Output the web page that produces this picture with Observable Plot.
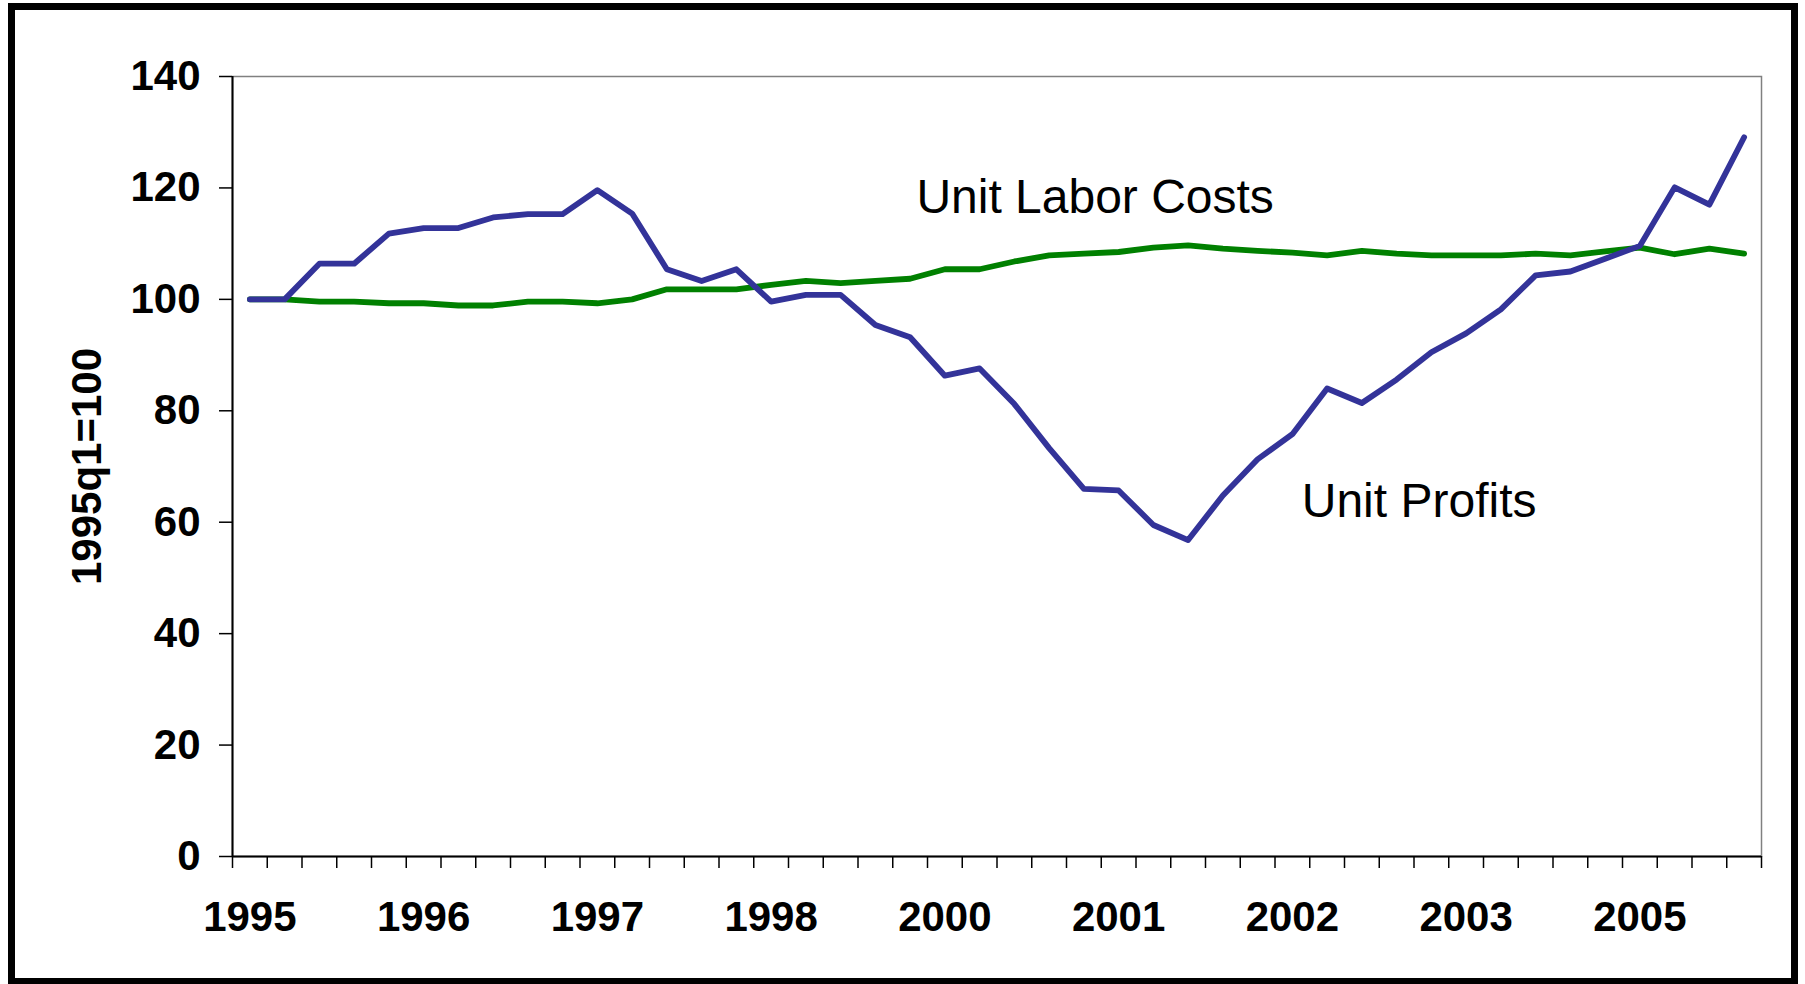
<!DOCTYPE html>
<html>
<head>
<meta charset="utf-8">
<script src="https://cdn.jsdelivr.net/npm/d3@7"></script>
<script src="https://cdn.jsdelivr.net/npm/@observablehq/plot@0.6"></script>
<style>
  html, body { margin: 0; padding: 0; background: #fff; overflow: hidden; }
  #chart { position: absolute; left: 0; top: 0; }
  #frame { position: absolute; left: 8px; top: 3px; width: 1790px; height: 982px;
           border: 7px solid #000; box-sizing: border-box; pointer-events: none; }
</style>
</head>
<body>
<div id="chart"></div>
<div id="frame"></div>
<script>
// Quarterly categories, 1995q1 .. 2005q4
const quarters = [
  "1995q1","1995q2","1995q3","1995q4","1996q1","1996q2","1996q3","1996q4",
  "1997q1","1997q2","1997q3","1997q4","1998q1","1998q2","1998q3","1998q4",
  "1999q1","1999q2","1999q3","1999q4","2000q1","2000q2","2000q3","2000q4",
  "2001q1","2001q2","2001q3","2001q4","2002q1","2002q2","2002q3","2002q4",
  "2003q1","2003q2","2003q3","2003q4","2004q1","2004q2","2004q3","2004q4",
  "2005q1","2005q2","2005q3","2005q4"
];

// Unit Profits (1995q1 = 100)
const unitProfits = [
  100, 100, 106.4, 106.4, 111.8, 112.8, 112.8, 114.7, 115.3, 115.3,
  119.6, 115.4, 105.4, 103.3, 105.4, 99.6, 100.8, 100.8, 95.4, 93.2,
  86.3, 87.6, 81.2, 73.3, 66.0, 65.7, 59.5, 56.8, 64.8, 71.3,
  75.8, 84.0, 81.4, 85.6, 90.5, 93.9, 98.2, 104.3, 105.0, 107.3,
  109.6, 120.1, 117.0, 129.1
];

// Unit Labor Costs (1995q1 = 100)
const unitLaborCosts = [
  100, 100, 99.6, 99.6, 99.3, 99.3, 98.9, 98.9, 99.6, 99.6,
  99.3, 100.0, 101.8, 101.8, 101.8, 102.6, 103.3, 102.9, 103.3, 103.7,
  105.4, 105.4, 106.8, 107.9, 108.2, 108.5, 109.3, 109.7, 109.1, 108.7,
  108.4, 107.9, 108.7, 108.2, 107.9, 107.9, 107.9, 108.2, 107.9, 108.6,
  109.3, 108.1, 109.1, 108.2
];

// Category-axis labels (one every 5 categories)
const xTickLabels = ["1995","1996","1997","1998","2000","2001","2002","2003","2005"];
const xLabelEvery = 5;
const yTicks = [0, 20, 40, 60, 80, 100, 120, 140];
const yTitle = "1995q1=100";

// Series annotations (anchored in data units: category index, value)
const annotations = [
  { text: "Unit Labor Costs", q: 19.18, v: 118.3 },
  { text: "Unit Profits", q: 30.27, v: 63.7 }
];

const profitsData = quarters.map((q, i) => ({ i, q, v: unitProfits[i] }));
const laborData = quarters.map((q, i) => ({ i, q, v: unitLaborCosts[i] }));
const boundaries = d3.range(quarters.length + 1).map(k => k - 0.5);
const labelIdx = xTickLabels.map((_, k) => k * xLabelEvery);

const FONT = "Arial, 'Liberation Sans', Helvetica, sans-serif";

const chart = Plot.plot({
  width: 1805,
  height: 984,
  marginLeft: 232,
  marginRight: 44,
  marginTop: 76,
  marginBottom: 128,
  style: { fontFamily: FONT, background: "transparent", color: "#000" },
  x: { type: "linear", domain: [-0.5, quarters.length - 0.5] },
  y: { domain: [0, 140] },
  marks: [
    Plot.frame({ stroke: "#808080", strokeWidth: 1.5 }),
    Plot.axisY({
      ticks: yTicks, tickSize: 13, tickPadding: 19, tickFormat: d => String(d),
      fontSize: 42, fontWeight: "bold", strokeWidth: 1.5, label: null
    }),
    Plot.axisX({
      ticks: boundaries, tickSize: 12, tickFormat: () => "",
      strokeWidth: 1.5, label: null
    }),
    Plot.axisX({
      ticks: labelIdx, tickSize: 0, tickPadding: 45,
      tickFormat: d => xTickLabels[Math.round(d / xLabelEvery)],
      fontSize: 42, fontWeight: "bold", label: null
    }),
    Plot.ruleX([-0.5], { stroke: "#000", strokeWidth: 2 }),
    Plot.ruleY([0], { stroke: "#000", strokeWidth: 2.2 }),
    Plot.lineY(laborData, { x: "i", y: "v", stroke: "#008000", strokeWidth: 5.8 }),
    Plot.lineY(profitsData, { x: "i", y: "v", stroke: "#333399", strokeWidth: 5.8 }),
    Plot.text(annotations, {
      x: "q", y: "v", text: "text", textAnchor: "start",
      fontSize: 48, fontWeight: "normal", fill: "#000"
    }),
    Plot.text([yTitle], {
      frameAnchor: "left", dx: -145, rotate: -90, text: d => d,
      textAnchor: "middle", lineAnchor: "middle",
      fontSize: 42, fontWeight: "bold", fill: "#000"
    })
  ]
});

document.getElementById("chart").appendChild(chart);
</script>
</body>
</html>
